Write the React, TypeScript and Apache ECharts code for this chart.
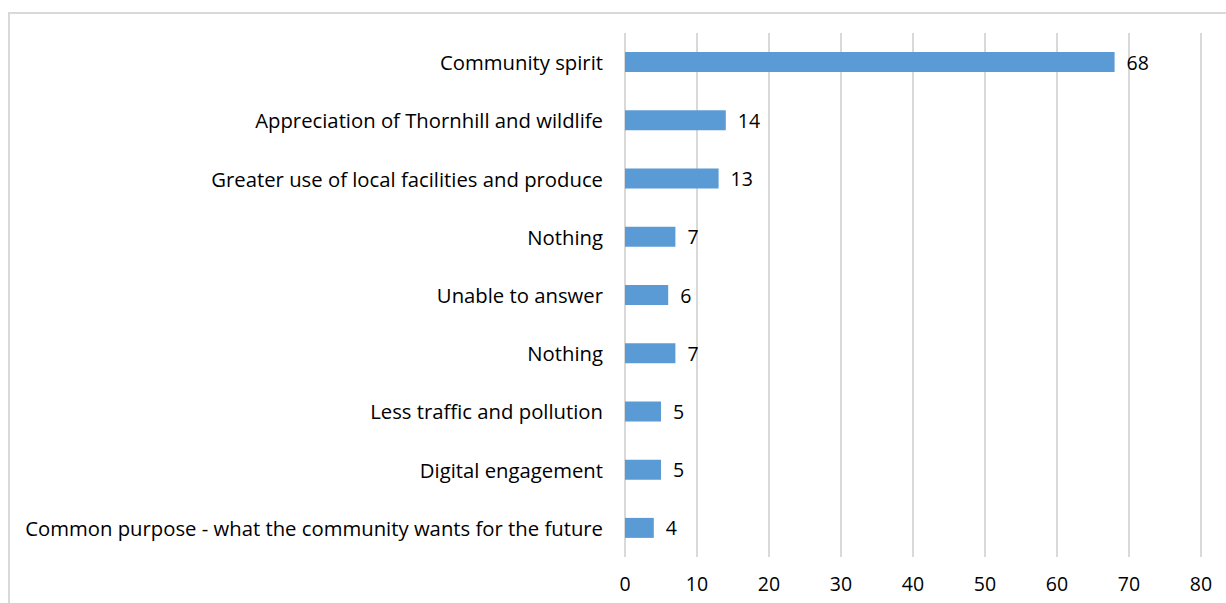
import React, { useEffect, useRef } from "react";
import * as echarts from "echarts";

const categories = [
  "Community spirit",
  "Appreciation of Thornhill and wildlife",
  "Greater use of local facilities and produce",
  "Nothing",
  "Unable to answer",
  "Nothing",
  "Less traffic and pollution",
  "Digital engagement",
  "Common purpose - what the community wants for the future",
];
const values = [68, 14, 13, 7, 6, 7, 5, 5, 4];
const axisMin = 0;
const axisMax = 80;
const axisStep = 10;

export default function App() {
  const ref = useRef<HTMLDivElement>(null);
  useEffect(() => {
    if (!ref.current) return;
    const chart = echarts.init(ref.current, null, { renderer: "svg" });
    const font = "'Open Sans', Lato, sans-serif";
    chart.setOption({
      animation: false,
      backgroundColor: "#ffffff",
      graphic: [
        {
          type: "rect",
          shape: { x: 9, y: 13, width: 1400, height: 800 },
          style: { fill: "none", stroke: "#d9d9d9", lineWidth: 2 },
          silent: true,
        },
      ],
      grid: { left: 625, right: 25, top: 33, bottom: 46, containLabel: false },
      xAxis: {
        type: "value",
        min: axisMin,
        max: axisMax,
        interval: axisStep,
        axisLine: { show: false },
        axisTick: { show: false },
        splitLine: { show: true, lineStyle: { color: "#d9d9d9", width: 2 } },
        axisLabel: { color: "#000", fontSize: 19.5, fontFamily: font, margin: 16 },
      },
      yAxis: {
        type: "category",
        data: categories,
        inverse: true,
        axisLine: { show: false },
        axisTick: { show: false },
        axisLabel: { color: "#000", fontSize: 20.3, fontFamily: font, margin: 22 },
      },
      series: [
        {
          type: "bar",
          data: values,
          barWidth: 20,
          itemStyle: { color: "#5b9bd5" },
          label: {
            show: true,
            position: "right",
            distance: 12,
            color: "#000",
            fontSize: 19.5,
            fontFamily: font,
          },
        },
      ],
    });
    return () => chart.dispose();
  }, []);
  return (
    <div
      ref={ref}
      style={{ position: "absolute", left: 0, top: 0, width: 1226, height: 603 }}
    />
  );
}
